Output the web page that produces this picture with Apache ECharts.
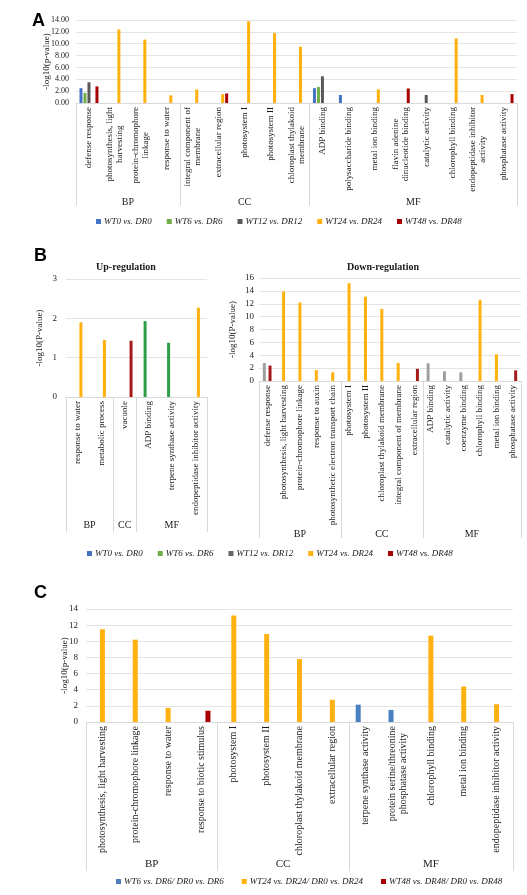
<!DOCTYPE html>
<html><head><meta charset="utf-8">
<script src="https://cdn.jsdelivr.net/npm/echarts@6/dist/echarts.min.js"></script>
<style>html,body{margin:0;padding:0;background:#fff}#c{width:527px;height:895px}</style>
</head><body><div id="c"></div>
<script>
// ---------- Panel A ----------
const seriesNamesA = ['WT0 vs. DR0', 'WT6 vs. DR6', 'WT12 vs. DR12', 'WT24 vs. DR24', 'WT48 vs. DR48'];
const categoriesA = ['defense response', 'photosynthesis, light\nharvesting', 'protein-chromophore\nlinkage', 'response to water',
  'integral component of\nmembrane', 'extracellular region', 'photosystem I', 'photosystem II', 'chloroplast thylakoid\nmembrane',
  'ADP binding', 'polysaccharide binding', 'metal ion binding', 'flavin adenine\ndinucleotide binding', 'catalytic activity',
  'chlorophyll binding', 'endopeptidase inhibitor\nactivity', 'phosphatase activity'];
const groupsA = ['BP', 'CC', 'MF'];
const groupSizesA = [4, 5, 8];
const yTicksA = [0, 2, 4, 6, 8, 10, 12, 14];
const aWT0  = [2.5, null, null, null, null, null, null, null, null, 2.5, 1.35, null, null, null, null, null, null];
const aWT6  = [1.7, null, null, null, null, null, null, null, null, 2.7, null, null, null, null, null, null, null];
const aWT12 = [3.5, null, null, null, null, null, null, null, null, 4.5, null, null, null, 1.35, null, null, null];
const aWT24 = [null, 12.4, 10.7, 1.3, 2.3, 1.5, 13.8, 11.8, 9.5, null, null, 2.3, null, null, 10.9, 1.35, null];
const aWT48 = [2.8, null, null, null, null, 1.6, null, null, null, null, null, null, 2.45, null, null, null, 1.5];

// ---------- Panel B (up-regulation) ----------
const categoriesBUp = ['response to water', 'metabolic process', 'vacuole', 'ADP binding', 'terpene synthase activity', 'endopeptidase inhibitor activity'];
const groupsBUp = ['BP', 'CC', 'MF'];
const groupSizesBUp = [2, 1, 3];
const yTicksBUp = [0, 1, 2, 3];
const bUpWT0  = [null, null, null, null, null, null];
const bUpWT6  = [null, null, null, 1.93, 1.38, null];
const bUpWT12 = [null, null, null, null, null, null];
const bUpWT24 = [1.9, 1.45, null, null, null, 2.27];
const bUpWT48 = [null, null, 1.43, null, null, null];

// ---------- Panel B (down-regulation) ----------
const categoriesBDown = ['defense response', 'photosynthesis, light harvesting', 'protein-chromophore linkage', 'response to auxin',
  'photosynthetic electron transport chain', 'photosystem I', 'photosystem II', 'chloroplast thylakoid membrane',
  'integral component of membrane', 'extracellular region', 'ADP binding', 'catalytic activity', 'coenzyme binding',
  'chlorophyll binding', 'metal ion binding', 'phosphatase activity'];
const groupsBDown = ['BP', 'CC', 'MF'];
const groupSizesBDown = [5, 5, 6];
const yTicksBDown = [0, 2, 4, 6, 8, 10, 12, 14, 16];
const bDnWT12 = [2.8, null, null, null, null, null, null, null, null, null, 2.75, 1.5, 1.35, null, null, null];
const bDnWT24 = [null, 13.9, 12.2, 1.7, 1.35, 15.2, 13.1, 11.2, 2.8, null, null, null, null, 12.6, 4.15, null];
const bDnWT48 = [2.4, null, null, null, null, null, null, null, null, 1.9, null, null, null, null, null, 1.65];

// ---------- Panel C ----------
const seriesNamesC = ['WT6 vs. DR6/ DR0 vs. DR6', 'WT24 vs. DR24/ DR0 vs. DR24', 'WT48 vs. DR48/ DR0 vs. DR48'];
const categoriesC = ['photosynthesis, light harvesting', 'protein-chromophore linkage', 'response to water', 'response to biotic stimulus',
  'photosystem I', 'photosystem II', 'chloroplast thylakoid membrane', 'extracellular region',
  'terpene synthase activity', 'protein serine/threonine\nphosphatase activity', 'chlorophyll binding', 'metal ion binding',
  'endopeptidase inhibitor activity'];
const groupsC = ['BP', 'CC', 'MF'];
const groupSizesC = [4, 4, 5];
const yTicksC = [0, 2, 4, 6, 8, 10, 12, 14];
const cWT6  = [null, null, null, null, null, null, null, null, 2.15, 1.5, null, null, null];
const cWT24 = [11.5, 10.2, 1.75, null, 13.2, 10.9, 7.8, 2.75, null, null, 10.7, 4.4, 2.2];
const cWT48 = [null, null, null, 1.4, null, null, null, null, null, null, null, null, null];

// ---------- styling ----------
const SERIF = '"Liberation Serif", "Times New Roman", serif';
const SANS = '"Liberation Sans", Arial, sans-serif';
const COL = { blue: '#4472C4', green: '#70AD47', gray: '#595959', yellow: '#FFB20F', red: '#A80000' };
const COLB = { blue: '#4472C4', green: '#2E9E48', gray: '#A0A0A0', yellow: '#FFB20F', red: '#A51A1A' };
const GRIDLINE = '#E4E4E4';
const AXIS = '#D9D9D9';
const TXT = '#1a1a1a';

const grids = [
  { left: 76, right: 10, top: 20, height: 83 },
  { left: 66, right: 320, top: 279, height: 118 },
  { left: 259, right: 6, top: 278, height: 103 },
  { left: 86, right: 14, top: 609, height: 113 }
];

function catAxis(gi, cats, fs, lh) {
  return {
    type: 'category', gridIndex: gi, data: cats, position: 'bottom',
    axisLine: { lineStyle: { color: AXIS } }, axisTick: { show: false },
    axisLabel: {
      interval: 0, rotate: 90, margin: 4, color: TXT,
      fontFamily: SERIF, fontSize: fs,
      formatter: v => v.split('\n').map(s => '{c|' + s + '}').join('\n'),
      rich: { c: { align: 'center', fontFamily: SERIF, fontSize: fs, lineHeight: lh, color: TXT } }
    }
  };
}
function groupAxis(gi, names, sizes, tickLen, labelMargin, fs) {
  const bounds = [0];
  sizes.forEach(s => bounds.push(bounds[bounds.length - 1] + s));
  const centers = names.map((n, i) => (bounds[i] + bounds[i + 1]) / 2);
  return {
    type: 'value', gridIndex: gi, min: 0, max: bounds[bounds.length - 1], position: 'bottom', offset: 0,
    axisLine: { show: false }, splitLine: { show: false },
    axisTick: { show: true, customValues: bounds, length: tickLen, lineStyle: { color: AXIS, width: 1 } },
    axisLabel: {
      customValues: centers, margin: labelMargin, fontFamily: SERIF, fontSize: fs, color: TXT,
      formatter: v => { const k = centers.findIndex(c => Math.abs(c - v) < 1e-6); return k >= 0 ? names[k] : ''; }
    }
  };
}
function valAxis(gi, ticks, name, gap, margin, fs, fmt) {
  return {
    type: 'value', gridIndex: gi, min: ticks[0], max: ticks[ticks.length - 1], interval: ticks[1] - ticks[0],
    axisLine: { show: false }, axisTick: { show: false },
    splitLine: { lineStyle: { color: GRIDLINE, width: 1 } },
    axisLabel: { margin: margin, fontFamily: SERIF, fontSize: fs, color: TXT, formatter: fmt },
    name: name, nameLocation: 'middle', nameGap: gap, nameRotate: 90, nameMoveOverlap: false,
    nameTextStyle: { fontFamily: SERIF, fontSize: 9, color: TXT }
  };
}
function bar(name, data, xi, yi, color, w, gap) {
  return { type: 'bar', name: name, data: data, xAxisIndex: xi, yAxisIndex: yi, barWidth: w, barGap: gap,
    itemStyle: { color: color }, animation: false };
}

const xAxes = [
  catAxis(0, categoriesA, 9, 10), groupAxis(0, groupsA, groupSizesA, 103, 94, 10),
  catAxis(1, categoriesBUp, 9, 10), groupAxis(1, groupsBUp, groupSizesBUp, 135, 123, 10),
  catAxis(2, categoriesBDown, 9, 10), groupAxis(2, groupsBDown, groupSizesBDown, 157, 148, 10),
  catAxis(3, categoriesC, 10, 11), groupAxis(3, groupsC, groupSizesC, 149, 137, 11)
];
const yAxes = [
  valAxis(0, yTicksA, '-log10(p-value)', 25, 7, 8, v => v.toFixed(2)),
  valAxis(1, yTicksBUp, '-log10(P-value)', 22, 9, 9, v => String(v)),
  valAxis(2, yTicksBDown, '-log10(P-value)', 22, 5, 9, v => String(v)),
  valAxis(3, yTicksC, '-log10(p-value)', 17, 8, 9, v => String(v))
];

const colA = [COL.blue, COL.green, COL.gray, COL.yellow, COL.red];
const colB = [COLB.blue, COLB.green, COLB.gray, COLB.yellow, COLB.red];
const dataA = [aWT0, aWT6, aWT12, aWT24, aWT48];
const dataBUp = [bUpWT0, bUpWT6, bUpWT12, bUpWT24, bUpWT48];

const series = [];
dataA.forEach((d, i) => series.push(bar(seriesNamesA[i], d, 0, 0, colA[i], 3, '33%')));
dataBUp.forEach((d, i) => series.push(bar(seriesNamesA[i], d, 2, 1, colB[i], 3, '5%')));
series.push(bar(seriesNamesA[2], bDnWT12, 4, 2, COLB.gray, 3, '-5%'));
series.push(bar(seriesNamesA[3], bDnWT24, 4, 2, COLB.yellow, 3, '-5%'));
series.push(bar(seriesNamesA[4], bDnWT48, 4, 2, COLB.red, 3, '-5%'));
const colC = ['#4A7FC1', COL.yellow, COL.red];
[cWT6, cWT24, cWT48].forEach((d, i) => series.push(bar(seriesNamesC[i], d, 6, 3, colC[i], 5, '40%')));

function legend(names, colors, left, top, gap) {
  return {
    left: left, top: top, width: 500, itemWidth: 5, itemHeight: 5, itemGap: gap, icon: 'rect', selectedMode: false,
    data: names.map((n, i) => ({ name: n, itemStyle: { color: colors[i] } })),
    textStyle: { fontFamily: SERIF, fontStyle: 'italic', fontSize: 9, color: TXT, padding: [0, 0, 0, -2] }
  };
}

const option = {
  backgroundColor: '#fff',
  animation: false,
  title: [
    { text: 'A', left: 27, top: 7, textStyle: { fontFamily: SANS, fontWeight: 'bold', fontSize: 18, color: '#000' } },
    { text: 'B', left: 29, top: 242, textStyle: { fontFamily: SANS, fontWeight: 'bold', fontSize: 18, color: '#000' } },
    { text: 'C', left: 29, top: 579, textStyle: { fontFamily: SANS, fontWeight: 'bold', fontSize: 18, color: '#000' } },
    { text: 'Up-regulation', left: 121, top: 257, textAlign: 'center', textStyle: { fontFamily: SERIF, fontWeight: 'bold', fontSize: 10, color: TXT } },
    { text: 'Down-regulation', left: 378, top: 257, textAlign: 'center', textStyle: { fontFamily: SERIF, fontWeight: 'bold', fontSize: 10, color: TXT } }
  ],
  legend: [
    legend(seriesNamesA, [COL.blue, COL.green, COL.gray, COL.yellow, COL.red], 91, 212, 15),
    legend(seriesNamesA, [COL.blue, COL.green, '#666666', COL.yellow, COL.red], 82, 544, 15),
    legend(seriesNamesC, ['#4A7FC1', COL.yellow, COL.red], 111, 872, 18)
  ],
  grid: grids,
  xAxis: xAxes,
  yAxis: yAxes,
  series: series
};
const chart = echarts.init(document.getElementById('c'), null, { renderer: 'canvas' });
chart.setOption(option);
</script>
</body></html>
